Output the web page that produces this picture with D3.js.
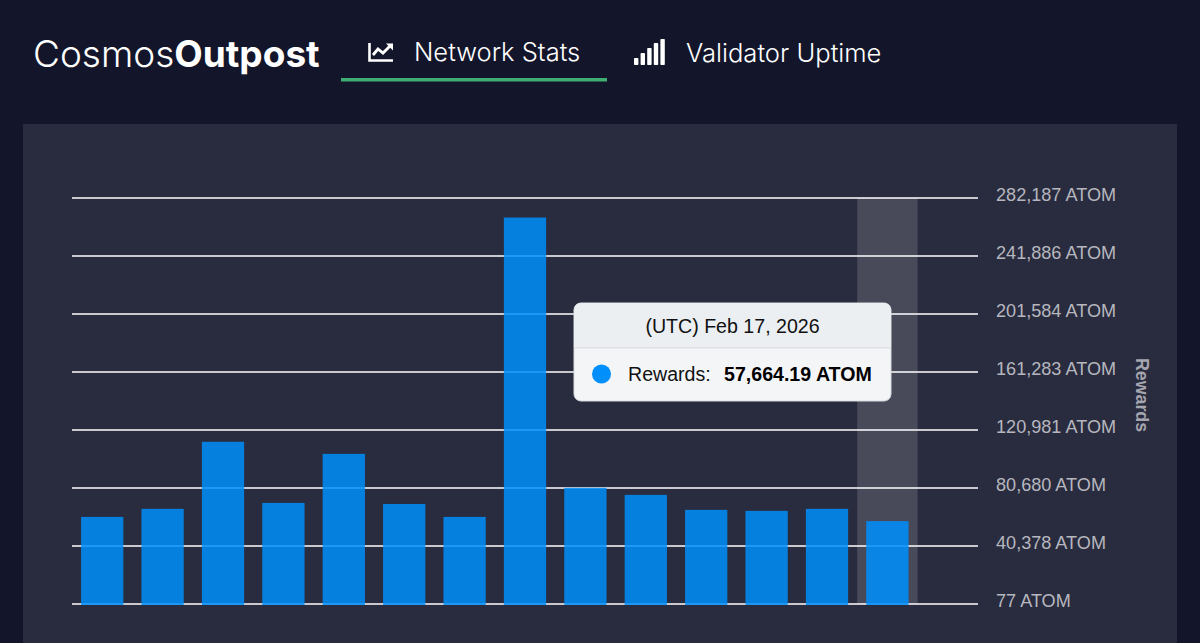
<!DOCTYPE html>
<html lang="en">
<head>
<meta charset="utf-8">
<style>
	html, body { margin: 0; padding: 0; background: #13162a; overflow: hidden; }
	svg { display: block; }
</style>
</head>
<body>
	<script src="https://d3js.org/d3.v7.min.js"></script>
	<script>
		// the last slot has no bar yet
		const days = ["Feb 4", "Feb 5", "Feb 6", "Feb 7", "Feb 8", "Feb 9", "Feb 10", "Feb 11", "Feb 12", "Feb 13", "Feb 14", "Feb 15", "Feb 16", "Feb 17", "Feb 18"];
		const rewards = [60600, 66200, 112800, 70300, 104400, 69600, 60600, 268600, 80800, 75900, 65500, 64800, 66200, 57664.19, null];
		const yTicks = [77, 40378, 80680, 120981, 161283, 201584, 241886, 282187];
		const hoverDay = "Feb 17";

		const width = 1200;
		const height = 643;
		const chartFont = "'Liberation Sans', Arial, sans-serif";
		const navFont = "Inter, Roboto, sans-serif";

		const svg = d3.select("body")
		  .append("svg")
		  .attr("width", width)
		  .attr("height", height)
		  .attr("viewBox", [0, 0, width, height]);

		svg.append("rect")
		  .attr("width", width)
		  .attr("height", height)
		  .attr("fill", "#13162a");

		// header
		const logo = svg.append("text")
		  .attr("x", 33)
		  .attr("y", 66.5)
		  .attr("fill", "#fff")
		  .attr("font-family", navFont)
		  .attr("font-size", 37);
		logo.append("tspan").attr("font-weight", 300).text("Cosmos");
		logo.append("tspan").attr("font-weight", 700).text("Outpost");

		svg.append("text")
		  .attr("x", 414)
		  .attr("y", 61)
		  .attr("fill", "#fff")
		  .attr("font-family", navFont)
		  .attr("font-weight", 300)
		  .attr("font-size", 25.5)
		  .text("Network Stats");

		svg.append("text")
		  .attr("x", 686)
		  .attr("y", 62)
		  .attr("fill", "#fff")
		  .attr("font-family", navFont)
		  .attr("font-weight", 300)
		  .attr("font-size", 25.6)
		  .text("Validator Uptime");

		svg.append("rect")
		  .attr("x", 341)
		  .attr("y", 78)
		  .attr("width", 266)
		  .attr("height", 3.5)
		  .attr("fill", "#3fae72");

		// chart icon
		const lineIcon = svg.append("g").attr("fill", "none").attr("stroke", "#fff");
		lineIcon.append("path").attr("stroke-width", 2.6).attr("d", "M369.5 43V60.5H393");
		lineIcon.append("path").attr("stroke-width", 2.8).attr("d", "M373 55L378 49L383 53L391 45");
		lineIcon.append("path").attr("fill", "#fff").attr("stroke", "none").attr("d", "M386 43.5H393V50.5Z");

		// signal icon
		const signalBars = [7, 12, 17, 22, 26];
		svg.append("g")
		  .selectAll("rect")
		  .data(signalBars)
		  .join("rect")
		  .attr("x", (d, i) => 634 + i * 6.6)
		  .attr("y", d => 65 - d)
		  .attr("width", 4.4)
		  .attr("height", d => d)
		  .attr("rx", 0.8)
		  .attr("fill", "#fff");

		// panel
		svg.append("rect")
		  .attr("x", 23)
		  .attr("y", 124)
		  .attr("width", 1154)
		  .attr("height", 519)
		  .attr("fill", "#292b3e");

		const x = d3.scaleBand()
		  .domain(days)
		  .range([72, 978])
		  .paddingInner(0.3)
		  .paddingOuter(0.15);

		const y = d3.scaleLinear()
		  .domain([77, 282187])
		  .range([604, 198]);

		const step = x.step();
		const hoverX = x(hoverDay) + x.bandwidth() / 2 - step / 2;

		const yAxis = d3.axisRight(y)
		  .tickValues(yTicks)
		  .tickSize(0)
		  .tickPadding(0)
		  .offset(0)
		  .tickFormat(d => d3.format(",")(d) + " ATOM");

		const axisG = svg.append("g")
		  .attr("transform", "translate(978,0)")
		  .call(yAxis);

		axisG.select(".domain").remove();

		axisG.selectAll(".tick line")
		  .attr("x1", -906)
		  .attr("x2", 0)
		  .attr("stroke", "#c9c9cf")
		  .attr("stroke-width", 2);

		axisG.selectAll(".tick text")
		  .attr("x", 18)
		  .attr("dy", "0.15em")
		  .attr("fill", "#b6b7be")
		  .attr("font-family", chartFont)
		  .attr("font-size", 18.1);

		// hover band sits over the grid
		svg.append("rect")
		  .attr("x", hoverX)
		  .attr("y", 198)
		  .attr("width", step)
		  .attr("height", 406)
		  .attr("fill", "#fff")
		  .attr("fill-opacity", 0.15);

		svg.append("g")
		  .selectAll("rect")
		  .data(days.map((d, i) => ({ day: d, value: rewards[i] })).filter(d => d.value !== null))
		  .join("rect")
		  .attr("x", d => x(d.day))
		  .attr("y", d => y(d.value))
		  .attr("width", x.bandwidth())
		  .attr("height", d => y(77) - y(d.value) + 1)
		  .attr("fill", "#008ffb")
		  .attr("fill-opacity", d => d.day === hoverDay ? 0.87 : 0.85);

		svg.append("text")
		  .attr("transform", "translate(1136,395) rotate(90)")
		  .attr("text-anchor", "middle")
		  .attr("fill", "#a4a5ae")
		  .attr("font-family", chartFont)
		  .attr("font-weight", 700)
		  .attr("font-size", 17.8)
		  .text("Rewards");

		// tooltip
		const tip = svg.append("g").attr("transform", "translate(574,303)");

		tip.append("rect")
		  .attr("width", 317)
		  .attr("height", 98)
		  .attr("rx", 7)
		  .attr("fill", "#f4f5f7")
		  .attr("stroke", "#d8dade")
		  .attr("stroke-width", 1);

		tip.append("path")
		  .attr("d", "M0 44V7A7 7 0 0 1 7 0H310A7 7 0 0 1 317 7V44Z")
		  .attr("fill", "#eceff1");

		tip.append("rect")
		  .attr("y", 44)
		  .attr("width", 317)
		  .attr("height", 1.5)
		  .attr("fill", "#dfe1e4");

		tip.append("text")
		  .attr("x", 158.5)
		  .attr("y", 30)
		  .attr("text-anchor", "middle")
		  .attr("fill", "#111")
		  .attr("font-family", chartFont)
		  .attr("font-size", 19.6)
		  .text("(UTC) " + hoverDay + ", 2026");

		tip.append("circle")
		  .attr("cx", 27.5)
		  .attr("cy", 71)
		  .attr("r", 9.5)
		  .attr("fill", "#008ffb");

		tip.append("text")
		  .attr("x", 54)
		  .attr("y", 78)
		  .attr("fill", "#111")
		  .attr("font-family", chartFont)
		  .attr("font-size", 19.6)
		  .text("Rewards:");

		tip.append("text")
		  .attr("x", 150)
		  .attr("y", 78)
		  .attr("fill", "#000")
		  .attr("font-family", chartFont)
		  .attr("font-weight", 700)
		  .attr("font-size", 19.6)
		  .text(d3.format(",.2f")(rewards[days.indexOf(hoverDay)]) + " ATOM");
	</script>
</body>
</html>
